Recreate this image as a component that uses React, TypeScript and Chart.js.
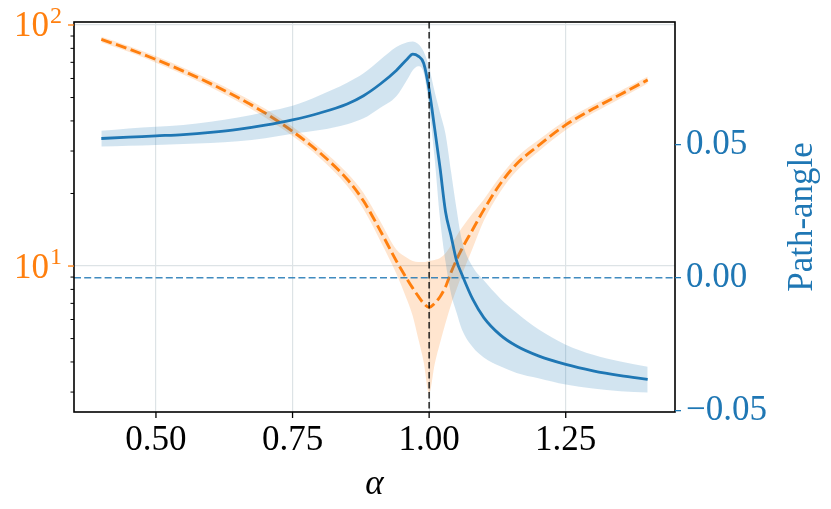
import { useEffect, useRef } from "react";
import { Chart, registerables } from "chart.js";

Chart.register(...registerables);

// alpha grid (x)
const ALPHA = [
  0.4, 0.45, 0.5, 0.55, 0.6, 0.65, 0.7, 0.75, 0.8, 0.85, 0.88, 0.91, 0.94, 0.96, 0.97, 0.98, 0.99,
  1.0, 1.01, 1.02, 1.03, 1.04, 1.05, 1.06, 1.08, 1.1, 1.13, 1.16, 1.2, 1.25, 1.3, 1.35, 1.4,
];

// orange dashed series (left, log axis) with its band
const NORM = [
  87.1, 79.6, 71.9, 64.4, 57.1, 50.0, 43.1, 36.2, 29.5, 22.9, 18.6, 14.1, 10.5, 8.8, 8.1, 7.5, 7.0,
  6.74, 7.0, 7.46, 8.2, 9.4, 10.6, 11.8, 14.2, 17.1, 21.9, 26.5, 31.6, 38.5, 44.9, 51.5, 59.2,
];
const NORM_HI = [
  89.4, 81.9, 74.1, 66.5, 59.1, 51.9, 44.9, 37.8, 30.9, 24.3, 20.1, 15.4, 11.7, 10.8, 10.5, 10.4, 10.4,
  10.5, 10.6, 10.8, 11.3, 12.2, 13.3, 14.4, 16.6, 18.9, 23.5, 28.2, 33.3, 40.3, 46.7, 53.4, 61.2,
];
const NORM_LO = [
  84.8, 77.4, 69.7, 62.3, 55.2, 48.2, 41.3, 34.6, 28.1, 21.5, 17.2, 12.8, 9.3, 7.2, 6.2, 5.0, 4.0,
  2.97, 3.9, 4.8, 5.8, 6.9, 8.0, 9.2, 11.9, 15.4, 20.3, 24.8, 29.9, 36.7, 43.1, 49.6, 57.2,
];

// blue solid series (right axis, path-angle) with its band
const ANGLE = [
  0.0523, 0.0528, 0.0533, 0.0538, 0.0546, 0.0557, 0.0573, 0.0593, 0.0619, 0.0653, 0.0684, 0.0727,
  0.0779, 0.0822, 0.0840, 0.0833, 0.0806, 0.0706, 0.0562, 0.0412, 0.0248, 0.0158, 0.0065, 0.0012,
  -0.0082, -0.015, -0.0215, -0.0257, -0.0294, -0.0326, -0.035, -0.0368, -0.0382,
];
const ANGLE_HI = [
  0.0552, 0.0561, 0.0567, 0.0574, 0.0586, 0.0602, 0.0623, 0.0646, 0.0686, 0.0733, 0.0768, 0.0818,
  0.0867, 0.0885, 0.0888, 0.0878, 0.085, 0.079, 0.07, 0.062, 0.054, 0.04, 0.026, 0.014,
  0.004, -0.001, -0.0078, -0.0132, -0.0194, -0.0252, -0.029, -0.0315, -0.0335,
];
const ANGLE_LO = [
  0.0493, 0.0496, 0.0499, 0.0502, 0.0506, 0.0513, 0.0524, 0.0541, 0.0555, 0.0577, 0.0599, 0.0638,
  0.0682, 0.0745, 0.078, 0.0795, 0.077, 0.064, 0.045, 0.022, 0.006, -0.006, -0.013, -0.0195,
  -0.0262, -0.03, -0.0333, -0.0358, -0.0378, -0.0402, -0.0417, -0.0427, -0.0432,
];

const X_TICKS = [0.5, 0.75, 1.0, 1.25];
const LOG_MAJOR = [10, 100];
const LOG_MINOR = [3, 4, 5, 6, 7, 8, 9, 20, 30, 40, 50, 60, 70, 80, 90];
const ANGLE_TICKS = [-0.05, 0, 0.05];
const CRITICAL_ALPHA = 1.0;
const ZERO_ANGLE = 0;

const ORANGE = "#ff7f0e";
const BLUE = "#1f77b4";
const GRID = "#dde3e6";
const SERIF = "'Liberation Serif', 'Times New Roman', serif";

const pts = (ys: number[]) => ALPHA.map((x, i) => ({ x, y: ys[i] }));

const decor = {
  id: "decor",
  afterDatasetsDraw(chart: any) {
    const { ctx, chartArea: a, scales } = chart;
    ctx.save();
    ctx.beginPath();
    ctx.rect(a.left, a.top, a.right - a.left, a.bottom - a.top);
    ctx.clip();
    const y0 = scales.yAngle.getPixelForValue(ZERO_ANGLE);
    ctx.strokeStyle = "rgba(31,119,180,0.85)";
    ctx.lineWidth = 1.5;
    ctx.setLineDash([7, 3.2]);
    ctx.beginPath();
    ctx.moveTo(a.left, y0);
    ctx.lineTo(a.right, y0);
    ctx.stroke();
    const xc = scales.x.getPixelForValue(CRITICAL_ALPHA);
    ctx.strokeStyle = "rgba(0,0,0,0.8)";
    ctx.lineWidth = 1.6;
    ctx.setLineDash([6.5, 3.5]);
    ctx.beginPath();
    ctx.moveTo(xc, a.top);
    ctx.lineTo(xc, a.bottom);
    ctx.stroke();
    ctx.restore();
  },
  afterDraw(chart: any) {
    const { ctx, chartArea: a, scales } = chart;
    ctx.save();
    ctx.setLineDash([]);

    // frame
    ctx.strokeStyle = "#000";
    ctx.lineWidth = 1.6;
    ctx.strokeRect(a.left, a.top, a.right - a.left, a.bottom - a.top);

    const tick = (x1: number, y1: number, x2: number, y2: number, color: string, w: number) => {
      ctx.strokeStyle = color;
      ctx.lineWidth = w;
      ctx.beginPath();
      ctx.moveTo(x1, y1);
      ctx.lineTo(x2, y2);
      ctx.stroke();
    };

    for (const v of X_TICKS) {
      const x = scales.x.getPixelForValue(v);
      tick(x, a.bottom, x, a.bottom + 6, "#000", 1.3);
    }
    for (const v of LOG_MINOR) {
      const y = scales.yNorm.getPixelForValue(v);
      tick(a.left - 3.5, y, a.left, y, "#000", 1);
    }
    for (const v of LOG_MAJOR) {
      const y = scales.yNorm.getPixelForValue(v);
      tick(a.left - 6, y, a.left, y, ORANGE, 1.3);
    }
    for (const v of ANGLE_TICKS) {
      const y = scales.yAngle.getPixelForValue(v);
      tick(a.right, y, a.right + 6, y, BLUE, 1.3);
    }

    // left log labels 10^n
    ctx.fillStyle = ORANGE;
    ctx.textAlign = "right";
    ctx.textBaseline = "alphabetic";
    for (const v of LOG_MAJOR) {
      const y = scales.yNorm.getPixelForValue(v);
      const exp = String(Math.round(Math.log10(v)));
      ctx.font = `24px ${SERIF}`;
      const ew = ctx.measureText(exp).width;
      ctx.fillText(exp, a.left - 12, y - 2);
      ctx.font = `35px ${SERIF}`;
      ctx.fillText("10", a.left - 12 - ew - 1, y + 11.5);
    }

    // axis titles
    ctx.fillStyle = "#000";
    ctx.textAlign = "center";
    ctx.font = `italic 35px ${SERIF}`;
    ctx.fillText("\u03b1", (a.left + a.right) / 2, 494);

    ctx.fillStyle = BLUE;
    ctx.font = `35px ${SERIF}`;
    ctx.translate(812, (a.top + a.bottom) / 2);
    ctx.rotate(-Math.PI / 2);
    ctx.fillText("Path-angle", 0, 0);
    ctx.restore();
  },
};

export default function App() {
  const canvasRef = useRef<HTMLCanvasElement>(null);
  const chartRef = useRef<Chart | null>(null);

  useEffect(() => {
    if (!canvasRef.current) return;
    if (chartRef.current) chartRef.current.destroy();

    const band = { borderColor: "transparent", borderWidth: 0, pointRadius: 0 };
    const noPad = (s: any) => {
      s.paddingTop = 0;
      s.paddingBottom = 0;
      s.paddingLeft = 0;
      s.paddingRight = 0;
    };

    chartRef.current = new Chart(canvasRef.current, {
      type: "line",
      data: {
        datasets: [
          { ...band, data: pts(NORM_LO), yAxisID: "yNorm", fill: false, order: 5 },
          { ...band, data: pts(NORM_HI), yAxisID: "yNorm", fill: "-1", backgroundColor: "rgba(255,127,14,0.2)", order: 4 },
          {
            data: pts(NORM),
            yAxisID: "yNorm",
            borderColor: ORANGE,
            borderWidth: 2.9,
            borderDash: [11, 4.5],
            pointRadius: 0,
            fill: false,
            order: 3,
          },
          { ...band, data: pts(ANGLE_LO), yAxisID: "yAngle", fill: false, order: 2 },
          { ...band, data: pts(ANGLE_HI), yAxisID: "yAngle", fill: "-1", backgroundColor: "rgba(31,119,180,0.2)", order: 1 },
          {
            data: pts(ANGLE),
            yAxisID: "yAngle",
            borderColor: BLUE,
            borderWidth: 2.8,
            pointRadius: 0,
            fill: false,
            order: 0,
          },
        ],
      },
      options: {
        animation: false,
        responsive: true,
        maintainAspectRatio: false,
        layout: { padding: { top: 22, left: 0, right: 0, bottom: 0 } },
        elements: { line: { cubicInterpolationMode: "monotone" } },
        plugins: { legend: { display: false }, tooltip: { enabled: false } },
        scales: {
          x: {
            type: "linear",
            min: 0.35,
            max: 1.45,
            afterBuildTicks: (s: any) => {
              s.ticks = X_TICKS.map((value) => ({ value }));
            },
            afterFit: (s: any) => {
              s.height = 97;
              noPad(s);
            },
            grid: { color: GRID, lineWidth: 1.2, drawTicks: false },
            border: { display: false },
            ticks: {
              color: "#000",
              font: { family: SERIF, size: 35 },
              padding: 8,
              maxRotation: 0,
              autoSkip: false,
              callback: (v: any) => Number(v).toFixed(2),
            },
          },
          yNorm: {
            type: "logarithmic",
            position: "left",
            min: 2.48,
            max: 102.9,
            afterBuildTicks: (s: any) => {
              s.ticks = LOG_MAJOR.map((value) => ({ value }));
            },
            afterFit: (s: any) => {
              s.width = 74;
              noPad(s);
            },
            grid: { color: GRID, lineWidth: 1.2, drawTicks: false },
            border: { display: false },
            ticks: { display: false },
          },
          yAngle: {
            type: "linear",
            position: "right",
            min: -0.0505,
            max: 0.0961,
            afterBuildTicks: (s: any) => {
              s.ticks = ANGLE_TICKS.map((value) => ({ value }));
            },
            afterFit: (s: any) => {
              s.width = 156;
              noPad(s);
            },
            grid: { display: false, drawTicks: false },
            border: { display: false },
            ticks: {
              color: BLUE,
              font: { family: SERIF, size: 35 },
              padding: 11,
              callback: (v: any) => {
                const n = Number(v);
                return (n < -1e-9 ? "\u2212" : "") + Math.abs(n).toFixed(2);
              },
            },
          },
        },
      },
      plugins: [decor],
    });

    return () => {
      if (chartRef.current) {
        chartRef.current.destroy();
        chartRef.current = null;
      }
    };
  }, []);

  return (
    <div style={{ position: "absolute", left: 0, top: 0, width: 831, height: 509, background: "#fff" }}>
      <canvas ref={canvasRef} />
    </div>
  );
}
